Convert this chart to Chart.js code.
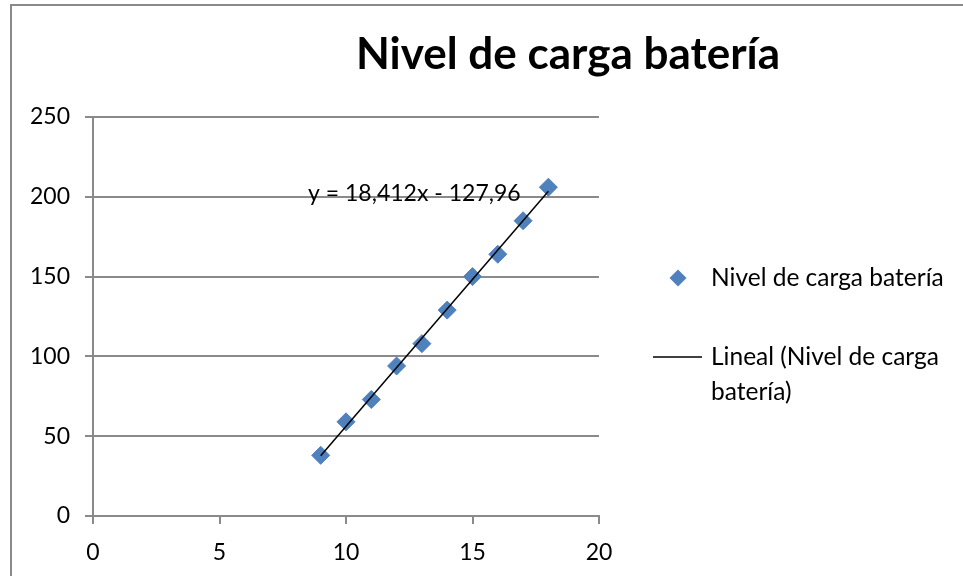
<!DOCTYPE html>
<html>
<head>
<meta charset="utf-8">
<script src="https://cdn.jsdelivr.net/npm/chart.js@4/dist/chart.umd.min.js"></script>
<style>
  html, body { margin: 0; padding: 0; background: #ffffff; }
  #wrap { width: 963px; height: 576px; position: relative; }
</style>
</head>
<body>
<div id="wrap"><canvas id="c" width="963" height="576"></canvas></div>
<script>
// Measurements: time step (x) and battery charge level (y)
const timeSteps = [9, 10, 11, 12, 13, 14, 15, 16, 17, 18];
const chargeLevels = [38, 59, 73, 94, 108, 129, 150, 164, 185, 206];

const chartTitle = 'Nivel de carga batería';
const seriesName = 'Nivel de carga batería';
const trendNameLines = ['Lineal (Nivel de carga', 'batería)'];

const FONT = 'Lato, "Noto Sans", sans-serif';
const BLUE = '#4f81bd';
const GRID = '#8a8a8a';

// Least-squares linear fit of the series
function linearFit(xs, ys) {
  const n = xs.length;
  const mx = xs.reduce((a, b) => a + b, 0) / n;
  const my = ys.reduce((a, b) => a + b, 0) / n;
  let sxy = 0, sxx = 0;
  for (let i = 0; i < n; i++) {
    sxy += (xs[i] - mx) * (ys[i] - my);
    sxx += (xs[i] - mx) * (xs[i] - mx);
  }
  const slope = sxy / sxx;
  return { slope, intercept: my - slope * mx };
}
const fit = linearFit(timeSteps, chargeLevels);
const xMin = Math.min(...timeSteps), xMax = Math.max(...timeSteps);
const trendPoints = [xMin, xMax].map(x => ({ x, y: fit.slope * x + fit.intercept }));

const fmt = (v, d) => v.toFixed(d).replace('.', ',');
const equationText = 'y = ' + fmt(fit.slope, 3) + 'x ' +
  (fit.intercept < 0 ? '- ' : '+ ') + fmt(Math.abs(fit.intercept), 2);

// Frame, title, equation label and legend drawn on the canvas
const decorations = {
  id: 'decorations',
  beforeDraw(chart) {
    const ctx = chart.ctx;
    ctx.save();
    ctx.fillStyle = '#ffffff';
    ctx.fillRect(0, 0, chart.width, chart.height);
    ctx.strokeStyle = GRID;
    ctx.lineWidth = 2;
    ctx.beginPath();
    ctx.moveTo(11, chart.height);
    ctx.lineTo(11, 5);
    ctx.lineTo(chart.width, 5);
    ctx.stroke();
    ctx.restore();
  },
  afterDraw(chart) {
    const ctx = chart.ctx;
    const xs = chart.scales.x, ys = chart.scales.y;
    ctx.save();
    // title
    ctx.fillStyle = '#000000';
    ctx.font = 'bold 44px ' + FONT;
    ctx.textAlign = 'center';
    ctx.textBaseline = 'alphabetic';
    ctx.fillText(chartTitle, 568, 69);

    // trendline equation
    ctx.font = '23px ' + FONT;
    ctx.textAlign = 'left';
    ctx.textBaseline = 'middle';
    ctx.fillText(equationText, xs.getPixelForValue(8.5), ys.getPixelForValue(202));

    // legend
    const lx = 678, ly1 = 278, ly2 = 357, lh = 35, tx = 711;
    ctx.fillStyle = BLUE;
    ctx.beginPath();
    ctx.moveTo(lx, ly1 - 8.5);
    ctx.lineTo(lx + 8.5, ly1);
    ctx.lineTo(lx, ly1 + 8.5);
    ctx.lineTo(lx - 8.5, ly1);
    ctx.closePath();
    ctx.fill();

    ctx.strokeStyle = '#000000';
    ctx.lineWidth = 1.5;
    ctx.beginPath();
    ctx.moveTo(653, ly2);
    ctx.lineTo(702, ly2);
    ctx.stroke();

    ctx.fillStyle = '#000000';
    ctx.font = '24.5px ' + FONT;
    ctx.fillText(seriesName, tx, ly1);
    trendNameLines.forEach((t, i) => ctx.fillText(t, tx, ly2 + i * lh));
    ctx.restore();
  }
};

new Chart(document.getElementById('c'), {
  type: 'scatter',
  data: {
    datasets: [
      {
        label: 'Lineal (Nivel de carga batería)',
        type: 'line',
        data: trendPoints,
        borderColor: '#000000',
        borderWidth: 1.5,
        pointRadius: 0,
        fill: false,
        order: 0
      },
      {
        label: seriesName,
        data: timeSteps.map((x, i) => ({ x, y: chargeLevels[i] })),
        backgroundColor: BLUE,
        borderColor: BLUE,
        borderWidth: 1,
        pointStyle: 'rectRot',
        pointRadius: 9,
        pointHoverRadius: 9,
        order: 1
      }
    ]
  },
  options: {
    responsive: false,
    animation: false,
    events: [],
    layout: { padding: { top: 117, right: 364, bottom: 0, left: 0 } },
    plugins: {
      legend: { display: false },
      title: { display: false },
      tooltip: { enabled: false }
    },
    scales: {
      x: {
        type: 'linear',
        min: 0, max: 20,
        afterFit(s) { s.height = 60; },
        ticks: { stepSize: 5, color: '#000000', font: { family: FONT, size: 23 }, padding: 15 },
        grid: { drawOnChartArea: false, drawTicks: true, tickLength: 8, color: GRID, lineWidth: 2 },
        border: { color: GRID, width: 2 }
      },
      y: {
        min: 0, max: 250,
        afterFit(s) { s.width = 93; },
        ticks: { stepSize: 50, color: '#000000', font: { family: FONT, size: 23 }, padding: 15 },
        grid: { color: GRID, lineWidth: 2, tickLength: 8 },
        border: { color: GRID, width: 2 }
      }
    }
  },
  plugins: [decorations]
});
</script>
</body>
</html>
